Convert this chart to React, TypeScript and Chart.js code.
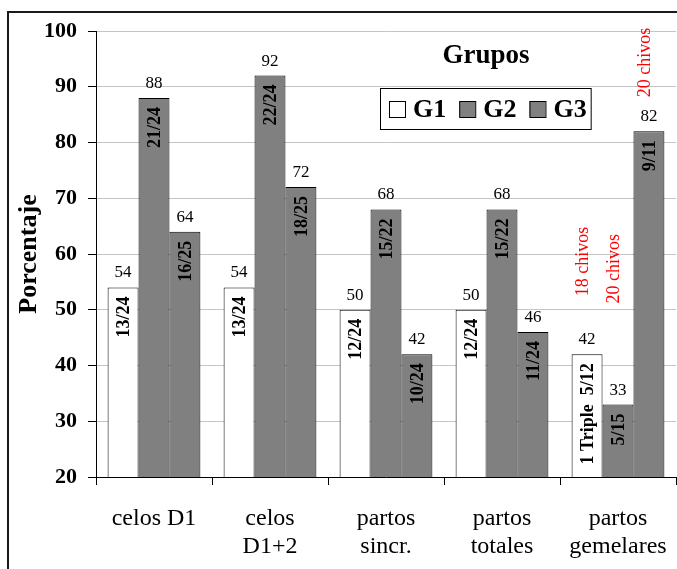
import React, { useEffect, useRef } from "react";
import { Chart, registerables } from "chart.js";

Chart.register(...registerables);

// ---- data ----
const categories: (string | string[])[] = [
  "celos D1",
  ["celos", "D1+2"],
  ["partos", "sincr."],
  ["partos", "totales"],
  ["partos", "gemelares"],
];
const groupNames = ["G1", "G2", "G3"];
const g1Values = [54, 54, 50, 50, 42];
const g2Values = [88, 92, 68, 68, 33];
const g3Values = [64, 72, 42, 46, 82];
const g1Counts = ["13/24", "13/24", "12/24", "12/24", "1 Triple  5/12"];
const g2Counts = ["21/24", "22/24", "15/22", "15/22", "5/15"];
const g3Counts = ["16/25", "18/25", "10/24", "11/24", "9/11"];
const yMin = 20;
const yMax = 100;
const yStep = 10;
const legendTitle = "Grupos";
const axisTitle = "Porcentaje";
// kid counts written over the twin-birth bars, one per group
const kidNotes = ["18 chivos", "20 chivos", "20 chivos"];

const SERIF = '"Liberation Serif", "Times New Roman", serif';
const GRAY = "#808080";

// frame around the whole figure
const framePlugin = {
  id: "frame",
  beforeDraw(chart: any) {
    const ctx = chart.ctx;
    ctx.save();
    ctx.fillStyle = "#ffffff";
    ctx.fillRect(0, 0, chart.width, chart.height);
    ctx.strokeStyle = "#1a1a1a";
    ctx.lineWidth = 2;
    ctx.strokeRect(8, 12, chart.width + 20, chart.height + 20);
    ctx.restore();
  },
};

// value above each bar, fraction written vertically inside it
const barLabelPlugin = {
  id: "barLabels",
  afterDatasetsDraw(chart: any) {
    const ctx = chart.ctx;
    const counts = [g1Counts, g2Counts, g3Counts];
    chart.data.datasets.forEach((ds: any, di: number) => {
      const meta = chart.getDatasetMeta(di);
      meta.data.forEach((bar: any, i: number) => {
        const { x, y } = bar.getProps(["x", "y"], true);
        ctx.save();
        ctx.fillStyle = "#000";
        ctx.font = `17px ${SERIF}`;
        ctx.textAlign = "center";
        ctx.textBaseline = "alphabetic";
        ctx.fillText(String(ds.data[i]), x, y - 10);
        ctx.translate(x + 1, y + 9);
        ctx.rotate(-Math.PI / 2);
        ctx.font = `bold 18px ${SERIF}`;
        ctx.textAlign = "right";
        ctx.textBaseline = "middle";
        ctx.fillText(counts[di][i], 0, 0);
        ctx.restore();
      });
    });

    // red notes above the last category
    const lifts = [58, 101, 34];
    const last = chart.data.labels.length - 1;
    kidNotes.forEach((txt, di) => {
      const bar = chart.getDatasetMeta(di).data[last];
      const { x, y } = bar.getProps(["x", "y"], true);
      ctx.save();
      ctx.translate(x - 4, y - lifts[di]);
      ctx.rotate(-Math.PI / 2);
      ctx.font = `18px ${SERIF}`;
      ctx.fillStyle = "#ff0000";
      ctx.textAlign = "left";
      ctx.textBaseline = "middle";
      ctx.fillText(txt, 0, 0);
      ctx.restore();
    });
  },
};

// boxed legend with its heading inside the plot
const legendPlugin = {
  id: "boxLegend",
  afterDraw(chart: any) {
    const ctx = chart.ctx;
    ctx.save();
    ctx.fillStyle = "#000";
    ctx.font = `bold 27px ${SERIF}`;
    ctx.textAlign = "center";
    ctx.textBaseline = "alphabetic";
    ctx.fillText(legendTitle, 486, 63);

    const left = 380;
    const top = 88;
    const h = 41;
    const sw = 16;
    ctx.font = `bold 26px ${SERIF}`;
    let x = left + 9;
    const items = chart.data.datasets.map((ds: any) => ({
      label: ds.label,
      color: ds.backgroundColor,
    }));
    const positions: number[] = [];
    items.forEach((it: any) => {
      positions.push(x);
      x += sw + 8 + ctx.measureText(it.label).width + 13;
    });
    const width = x - 13 + 4 - left;
    ctx.fillStyle = "#fff";
    ctx.fillRect(left, top, width, h);
    ctx.strokeStyle = "#000";
    ctx.lineWidth = 1;
    ctx.strokeRect(left + 0.5, top + 0.5, width, h);
    items.forEach((it: any, i: number) => {
      const px = positions[i];
      ctx.fillStyle = it.color;
      ctx.fillRect(px, top + 13, sw, sw);
      ctx.strokeStyle = "#000";
      ctx.strokeRect(px + 0.5, top + 13.5, sw, sw);
      ctx.fillStyle = "#000";
      ctx.textAlign = "left";
      ctx.fillText(it.label, px + sw + 8, top + 29);
    });
    ctx.restore();
  },
};

export default function App() {
  const canvasRef = useRef<HTMLCanvasElement | null>(null);

  useEffect(() => {
    if (!canvasRef.current) return;
    const chart = new Chart(canvasRef.current, {
      type: "bar",
      data: {
        labels: categories,
        datasets: [
          { label: groupNames[0], data: g1Values, backgroundColor: "#ffffff" },
          { label: groupNames[1], data: g2Values, backgroundColor: GRAY },
          { label: groupNames[2], data: g3Values, backgroundColor: GRAY },
        ].map((d) => ({
          ...d,
          borderColor: "#000",
          borderWidth: 1,
          barPercentage: 1,
          categoryPercentage: 0.8,
        })),
      },
      options: {
        responsive: false,
        animation: false,
        events: [],
        layout: { padding: { left: 10, top: 31, right: 1, bottom: 0 } },
        plugins: {
          legend: { display: false },
          tooltip: { enabled: false },
          title: { display: false },
        },
        scales: {
          x: {
            grid: {
              display: true,
              drawOnChartArea: false,
              drawTicks: true,
              tickLength: 8,
              color: "#000",
              offset: true,
            },
            border: { color: "#000", width: 1 },
            ticks: {
              color: "#000",
              font: { family: SERIF, size: 24, lineHeight: 1.15 },
              padding: 20,
              maxRotation: 0,
              autoSkip: false,
            },
            afterFit: (s: any) => {
              s.height = 92;
              s.paddingLeft = 0;
              s.paddingRight = 0;
            },
          },
          y: {
            min: yMin,
            max: yMax,
            ticks: {
              stepSize: yStep,
              padding: 11,
              color: "#000",
              font: { family: SERIF, size: 22, weight: "bold" },
            },
            grid: {
              color: "#c4c4c4",
              tickColor: "#000",
              tickLength: 8,
              lineWidth: 1,
            },
            border: { color: "#000", width: 1 },
            title: {
              display: true,
              text: axisTitle,
              color: "#000",
              font: { family: SERIF, size: 26, weight: "bold" },
              padding: { top: 4, bottom: 4 },
            },
            afterFit: (s: any) => {
              s.width = 86;
            },
          },
        },
      },
      plugins: [framePlugin, barLabelPlugin, legendPlugin],
    } as any);
    return () => chart.destroy();
  }, []);

  return (
    <canvas
      ref={canvasRef}
      width={677}
      height={569}
      style={{ position: "fixed", left: 0, top: 0, display: "block" }}
    />
  );
}
